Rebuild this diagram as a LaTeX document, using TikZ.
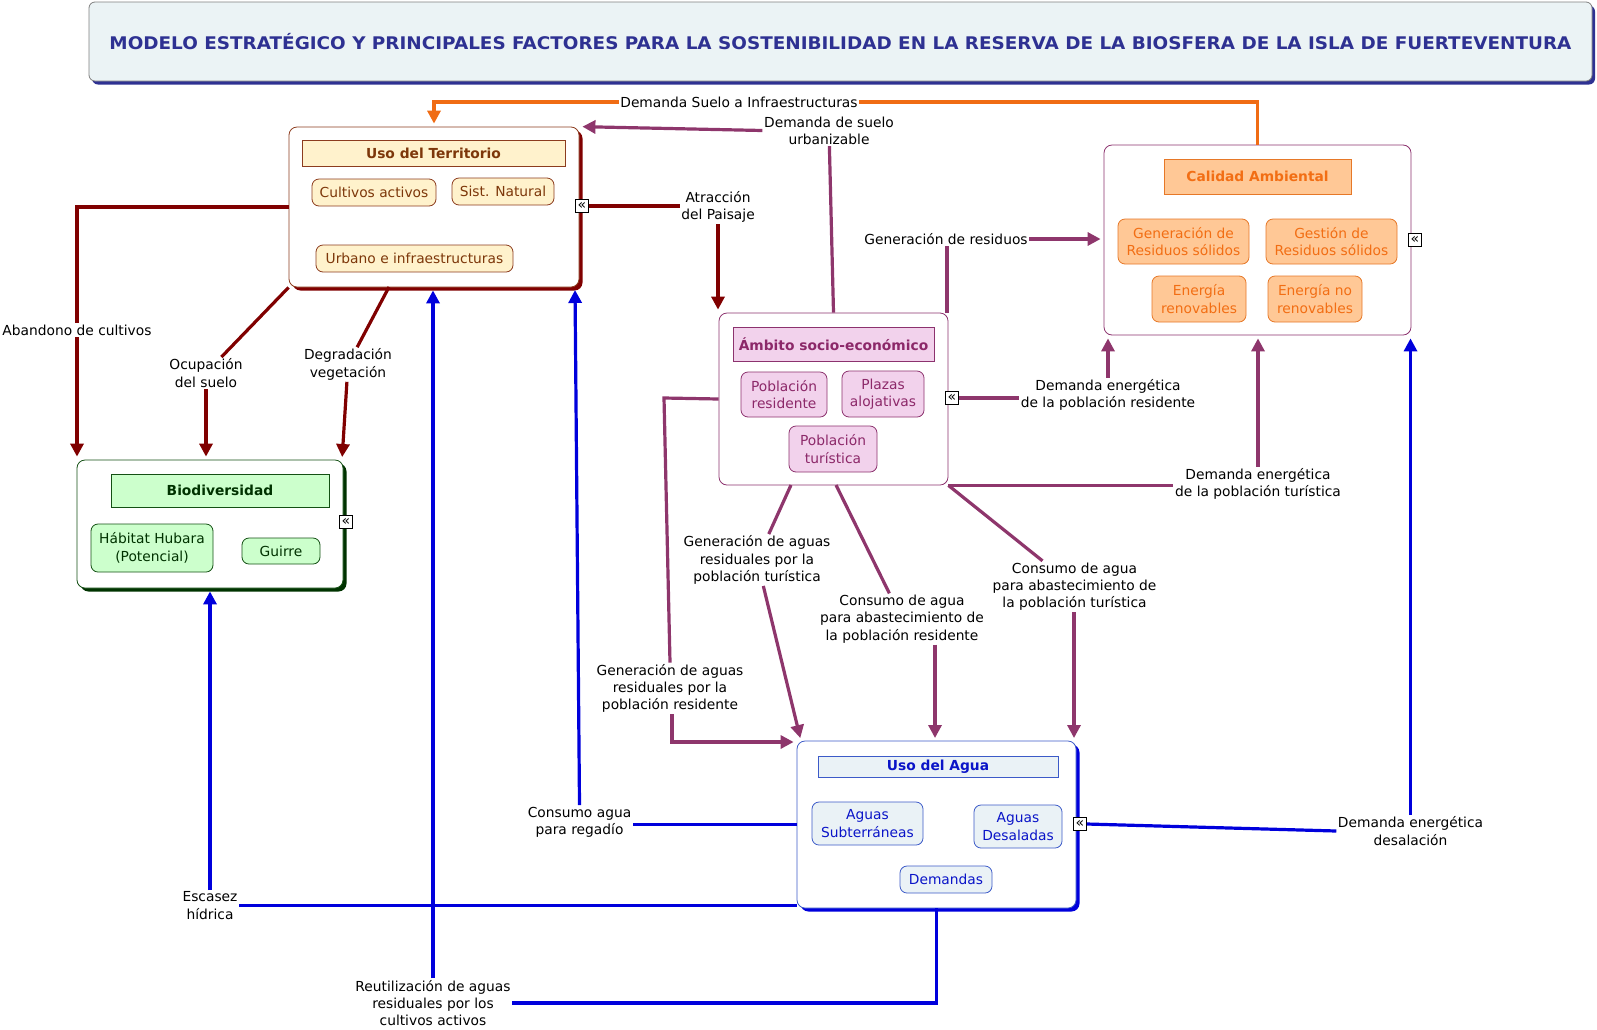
\documentclass[tikz,border=0pt]{standalone}
\usepackage{fontspec}
\usepackage{graphicx}
\setmainfont{DejaVu Sans}
\usetikzlibrary{arrows.meta,shadows,calc}

\definecolor{ttl}{RGB}{46,49,146}
\definecolor{ttlF}{RGB}{235,243,245}
\definecolor{dred}{RGB}{128,0,0}
\definecolor{purp}{RGB}{142,54,108}
\definecolor{orng}{RGB}{240,108,20}
\definecolor{blu}{RGB}{0,0,220}
\definecolor{terrB}{RGB}{140,60,30}
\definecolor{terrT}{RGB}{125,55,10}
\definecolor{terrF}{RGB}{255,242,204}
\definecolor{bioF}{RGB}{204,255,204}
\definecolor{bioB}{RGB}{20,80,20}
\definecolor{bioT}{RGB}{0,50,0}
\definecolor{bioS}{RGB}{0,51,0}
\definecolor{ambF}{RGB}{242,210,236}
\definecolor{ambB}{RGB}{140,50,110}
\definecolor{ambT}{RGB}{140,40,105}
\definecolor{calF}{RGB}{255,200,150}
\definecolor{calB}{RGB}{230,120,40}
\definecolor{calT}{RGB}{242,110,20}
\definecolor{aguaF}{RGB}{234,242,246}
\definecolor{aguaB}{RGB}{60,90,200}
\definecolor{aguaT}{RGB}{10,20,200}

\newcommand{\lf}{\fontsize{13.8}{17.3}\selectfont}

\tikzset{
  lbl/.style={font=\lf, align=center, fill=white, inner sep=1.5pt, text=black},
  mainbox/.style={draw, rounded corners=8pt, fill=white, line width=0.8pt},
  hdr/.style={draw, line width=0.8pt, font=\lf\bfseries, inner sep=0pt},
  item/.style={draw, rounded corners=7pt, line width=0.8pt, align=center, font=\lf, inner sep=0pt},
  icon/.style={draw=black, fill=white, line width=0.8pt, minimum size=13pt, inner sep=0pt, font=\fontsize{14}{14}\selectfont},
  conn/.style={line width=3.2pt},
  arr/.style={-{Triangle[length=13pt,width=13pt]}, shorten >=3pt},
}

\begin{document}
\begin{tikzpicture}[x=1pt,y=-1pt]
\useasboundingbox (0,0) rectangle (1597,1029);

% title
\node[draw=gray, fill=ttlF, rounded corners=6pt, line width=0.8pt,
      drop shadow={shadow xshift=3pt,shadow yshift=-3.5pt,fill=ttl,opacity=1},
      minimum width=1503pt, minimum height=79pt, text=ttl, inner sep=0pt] (title) at (840.5,41.5)
  {\resizebox{1462pt}{\height}{\fontsize{17.4}{20}\selectfont\bfseries MODELO ESTRATÉGICO Y PRINCIPALES FACTORES PARA LA SOSTENIBILIDAD EN LA RESERVA DE LA BIOSFERA DE LA ISLA DE FUERTEVENTURA}};

% Uso del Territorio
\node[mainbox, draw=terrB, drop shadow={shadow xshift=3.5pt,shadow yshift=-3.5pt,fill=dred,opacity=1},
      minimum width=290pt, minimum height=160pt] (terr) at (434,207) {};
\node[hdr, draw=terrB, fill=terrF, text=terrT, minimum width=263pt, minimum height=26pt] (terrH) at (433.5,153) {Uso del Territorio};
\node[item, draw=terrB, fill=terrF, text=terrT, minimum width=124pt, minimum height=27pt] (cult) at (374,192.5) {Cultivos activos};
\node[item, draw=terrB, fill=terrF, text=terrT, minimum width=102pt, minimum height=27pt] (sist) at (503,191.5) {Sist. Natural};
\node[item, draw=terrB, fill=terrF, text=terrT, minimum width=197pt, minimum height=27pt] (urb) at (414.5,258.5) {Urbano e infraestructuras};

% Biodiversidad
\node[mainbox, draw=bioB, drop shadow={shadow xshift=3.5pt,shadow yshift=-3.5pt,fill=bioS,opacity=1},
      minimum width=266pt, minimum height=128pt] (bio) at (210,524) {};
\node[hdr, draw=bioB, fill=bioF, text=bioT, minimum width=218pt, minimum height=33pt] (bioH) at (220,490.5) {Biodiversidad};
\node[item, draw=bioB, fill=bioF, text=bioT, minimum width=122pt, minimum height=48pt] (hub) at (152,548) {Hábitat Hubara\\(Potencial)};
\node[item, draw=bioB, fill=bioF, text=bioT, minimum width=78pt, minimum height=26pt] (gui) at (281,551) {Guirre};

% Ambito socio-economico
\node[mainbox, draw=ambB, minimum width=229pt, minimum height=172pt] (amb) at (833.5,399) {};
\node[hdr, draw=ambB, fill=ambF, text=ambT, minimum width=201pt, minimum height=34pt] (ambH) at (833.5,344) {Ámbito socio-económico};
\node[item, draw=ambB, fill=ambF, text=ambT, minimum width=86pt, minimum height=45pt] (pres) at (784,394.5) {Población\\residente};
\node[item, draw=ambB, fill=ambF, text=ambT, minimum width=82pt, minimum height=46pt] (plaz) at (883,394) {Plazas\\alojativas};
\node[item, draw=ambB, fill=ambF, text=ambT, minimum width=88pt, minimum height=46pt] (ptur) at (833,449) {Población\\turística};

% Calidad Ambiental
\node[mainbox, draw=ambB, minimum width=307pt, minimum height=190pt] (cal) at (1257.5,240) {};
\node[hdr, draw=calB, fill=calF, text=calT, minimum width=187pt, minimum height=35pt] (calH) at (1257.5,176.5) {Calidad Ambiental};
\node[item, draw=calB, fill=calF, text=calT, minimum width=131pt, minimum height=45pt] (genr) at (1183.5,241.5) {Generación de\\Residuos sólidos};
\node[item, draw=calB, fill=calF, text=calT, minimum width=131pt, minimum height=45pt] (gest) at (1331.5,241.5) {Gestión de\\Residuos sólidos};
\node[item, draw=calB, fill=calF, text=calT, minimum width=94pt, minimum height=46pt] (eren) at (1199,299) {Energía\\renovables};
\node[item, draw=calB, fill=calF, text=calT, minimum width=94pt, minimum height=46pt] (enor) at (1315,299) {Energía no\\renovables};

% Uso del Agua
\node[mainbox, draw=aguaB, drop shadow={shadow xshift=3.5pt,shadow yshift=-3.5pt,fill=blu,opacity=1},
      minimum width=279pt, minimum height=167pt] (agua) at (936.5,824.5) {};
\node[hdr, draw=aguaB, fill=aguaF, text=aguaT, minimum width=240pt, minimum height=21pt] (aguaH) at (938,766.5) {Uso del Agua};
\node[item, draw=aguaB, fill=aguaF, text=aguaT, minimum width=111pt, minimum height=43pt] (asub) at (867.5,823.5) {Aguas\\Subterráneas};
\node[item, draw=aguaB, fill=aguaF, text=aguaT, minimum width=88pt, minimum height=43pt] (ades) at (1018,826.5) {Aguas\\Desaladas};
\node[item, draw=aguaB, fill=aguaF, text=aguaT, minimum width=92pt, minimum height=27pt] (dem) at (946,879.5) {Demandas};

% icons
\node[icon] (ti) at (582,206) {«};
\node[icon] (bi) at (346,522) {«};
\node[icon] (ai) at (952,398) {«};
\node[icon] (ci) at (1415,240) {«};
\node[icon] (wi) at (1080,824) {«};

% labels
\node[lbl] (L1) at (739,102) {Demanda Suelo a Infraestructuras};
\node[lbl] (L2) at (829,130.5) {Demanda de suelo\\urbanizable};
\node[lbl] (L3) at (718,207) {Atracción\\del Paisaje};
\node[lbl] (L4) at (77,330) {Abandono de cultivos};
\node[lbl] (L5) at (206,373) {Ocupación\\del suelo};
\node[lbl] (L6) at (348,364.5) {Degradación\\vegetación};
\node[lbl] (L7) at (946,239) {Generación de residuos};
\node[lbl] (L8) at (1108,395) {Demanda energética\\de la población residente};
\node[lbl] (L9) at (1258,484) {Demanda energética\\de la población turística};
\node[lbl] (L10) at (670,688.5) {Generación de aguas\\residuales por la\\población residente};
\node[lbl] (L11) at (757,560) {Generación de aguas\\residuales por la\\población turística};
\node[lbl] (L12) at (902,619) {Consumo de agua\\para abastecimiento de\\la población residente};
\node[lbl] (L13) at (1074.5,586.5) {Consumo de agua\\para abastecimiento de\\la población turística};
\node[lbl] (L14) at (579.5,822) {Consumo agua\\para regadío};
\node[lbl] (L15) at (210,905.5) {Escasez\\hídrica};
\node[lbl] (L16) at (433,1003) {Reutilización de aguas\\residuales por los\\cultivos activos};
\node[lbl] (L17) at (1410.5,831) {Demanda energética\\desalación};

% coordinates
\coordinate (t6) at (389,287);
\coordinate (b6) at (342,460);
\coordinate (a7) at (947,313);
\coordinate (c10a) at (664,398);
\coordinate (c10b) at (672,742);
\coordinate (a11) at (791,485);
\coordinate (b11) at (801,741);
\coordinate (a12) at (836,485);
\coordinate (b12) at (935,741);
\coordinate (b13) at (1074,741);
\coordinate (b14) at (575,287);

% C1 orange
\draw[conn, orng] (cal.north) -- (cal.north |- L1.east) -- (L1.east);
\draw[conn, orng, arr] (L1.west) -- (terr.north |- L1.west) -- (terr.north);
% C2
\draw[conn, purp] (amb.north) -- (L2);
\draw[conn, purp, arr] (L2.west) -- (terr.north east);
% C3
\draw[conn, dred] (ti.east) -- (ti.east -| L3.west);
\draw[conn, dred, arr] (L3.south) -- (L3.south |- amb.north);
% C4
\draw[conn, dred] (terr.west) -- (terr.west -| L4) -- (L4.north);
\draw[conn, dred, arr] (L4.south) -- (L4.south |- bio.north);
% C5
\draw[conn, dred] (terr.south west) -- (L5);
\draw[conn, dred, arr] (L5.south) -- (L5.south |- bio.north);
% C6
\draw[conn, dred] (t6) -- (L6);
\draw[conn, dred, arr] (L6) -- (b6);
% C7
\draw[conn, purp] (a7) -- (a7 |- L7.south);
\draw[conn, purp, arr] (L7.east) -- (L7.east -| cal.west);
% C8
\draw[conn, purp] (ai.east) -- (ai.east -| L8.west);
\draw[conn, purp, arr] (L8.north) -- (L8.north |- cal.south);
% C9
\draw[conn, purp] (amb.south east) -- (amb.south east -| L9.west);
\draw[conn, purp, arr] (L9.north) -- (L9.north |- cal.south);
% C10
\draw[conn, purp] (amb.west) -- (c10a) -- (L10.north);
\draw[conn, purp, arr] (L10.south -| c10b) -- (c10b) -- (c10b -| agua.west);
% C11
\draw[conn, purp] (a11) -- (L11);
\draw[conn, purp, arr] (L11) -- (b11);
% C12
\draw[conn, purp] (a12) -- (L12);
\draw[conn, purp, arr] (b12 |- L12.south) -- (b12);
% C13
\draw[conn, purp] (amb.south east) -- (L13);
\draw[conn, purp, arr] (b13 |- L13.south) -- (b13);
% C14
\draw[conn, blu] (agua.west) -- (agua.west -| L14.east);
\draw[conn, blu, arr] (L14.north) -- (b14);
% C15
\draw[conn, blu] (L15.east) -- (L15.east -| agua.west);
\draw[conn, blu, arr] (L15.north) -- (L15.north |- bio.south);
% C16
\draw[conn, blu] (agua.south) -- (agua.south |- L16.east) -- (L16.east);
\draw[conn, blu, arr] (L16.north) -- (L16.north |- terr.south);
% C17
\draw[conn, blu] (wi.east) -- (L17.west);
\draw[conn, blu, arr] (L17.north) -- (L17.north |- cal.south);
\end{tikzpicture}
\end{document}
